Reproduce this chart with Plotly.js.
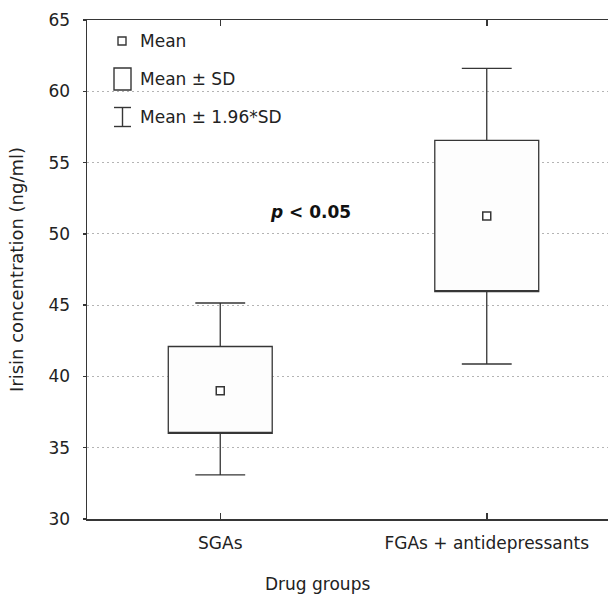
<!DOCTYPE html>
<html>
<head>
<meta charset="utf-8">
<script src="https://cdn.plot.ly/plotly-3.0.1.min.js"></script>
<style>
html,body{margin:0;padding:0;overflow:hidden;background:#fff;}
#chart{width:630px;height:597px;}
</style>
</head>
<body>
<div id="chart"></div>
<script>
// ---- data ----
const groups = ["SGAs", "FGAs + antidepressants"];
const means = [39.0, 51.25];
const sdLow = [36.0, 45.95];      // mean - SD
const sdHigh = [42.1, 56.55];     // mean + SD
const ciLow = [33.1, 40.87];      // mean - 1.96*SD
const ciHigh = [45.15, 61.6];     // mean + 1.96*SD
const yTicks = [30, 35, 40, 45, 50, 55, 60, 65];
const pText = "<b><i>p</i> < 0.05</b>";
const legendLabels = ["Mean", "Mean ± SD", "Mean ± 1.96*SD"];

// ---- layout helpers ----
const W = 630, H = 597;
const M = {l: 87, r: 10, t: 20, b: 78};
const PW = W - M.l - M.r, PH = H - M.t - M.b;
const px = v => (v - M.l) / PW;
const py = v => (H - M.b - v) / PH;
const ink = "#363636";
const font = "'DejaVu Sans', sans-serif";
const fs = 17;

const boxTrace = {
  type: "box",
  x: groups,
  q1: sdLow,
  median: sdLow,
  q3: sdHigh,
  lowerfence: ciLow,
  upperfence: ciHigh,
  width: 0.39,
  whiskerwidth: 0.48,
  fillcolor: "#fdfdfd",
  line: {color: ink, width: 1.3},
  boxpoints: false,
  hoverinfo: "skip",
  showlegend: false
};

const meanTrace = {
  type: "scatter",
  mode: "markers",
  x: groups,
  y: means,
  marker: {symbol: "square", size: 8, color: "#ffffff", line: {color: ink, width: 1.5}},
  showlegend: false,
  hoverinfo: "skip"
};

// legend (drawn manually)
const shapes = [
  {type: "rect", xref: "paper", yref: "paper", x0: px(118), x1: px(126), y0: py(45), y1: py(37), line: {color: ink, width: 1.4}, fillcolor: "#fff"},
  {type: "rect", xref: "paper", yref: "paper", x0: px(114), x1: px(131), y0: py(90), y1: py(68), line: {color: ink, width: 1.4}, fillcolor: "#fff"},
  {type: "line", xref: "paper", yref: "paper", x0: px(114), x1: px(131), y0: py(107.5), y1: py(107.5), line: {color: ink, width: 1.4}},
  {type: "line", xref: "paper", yref: "paper", x0: px(114), x1: px(131), y0: py(126.5), y1: py(126.5), line: {color: ink, width: 1.4}},
  {type: "line", xref: "paper", yref: "paper", x0: px(122.5), x1: px(122.5), y0: py(107.5), y1: py(126.5), line: {color: ink, width: 1.4}}
];

const legY = [41, 79, 117];
const annotations = legendLabels.map((t, i) => ({
  xref: "paper", yref: "paper", x: px(138), y: py(legY[i]),
  xanchor: "left", yanchor: "middle", showarrow: false,
  text: t, font: {family: font, size: fs, color: "#222"}
}));
annotations.push({
  x: 0.338, y: 51.55, xref: "x", yref: "y", showarrow: false,
  text: pText, font: {family: font, size: fs, color: "#111"}
});
annotations.push({
  xref: "paper", yref: "paper", x: px(317), y: py(584),
  xanchor: "center", yanchor: "middle", showarrow: false,
  text: "Drug groups", font: {family: font, size: 17, color: "#222"}
});

const layout = {
  width: W, height: H,
  margin: M,
  paper_bgcolor: "#fff",
  plot_bgcolor: "#fff",
  font: {family: font, size: fs, color: "#222"},
  showlegend: false,
  xaxis: {
    type: "category",
    range: [-0.5, 1.5],
    showline: true, linecolor: ink, linewidth: 1.5,
    mirror: "ticks",
    ticks: "inside", ticklen: 6, tickcolor: ink, tickwidth: 1.5,
    ticklabelstandoff: 8,
    showgrid: false, zeroline: false,
    tickfont: {family: font, size: fs, color: "#222"},
    fixedrange: true
  },
  yaxis: {
    range: [30, 65],
    tickvals: yTicks,
    showline: true, linecolor: ink, linewidth: 1.5,
    ticks: "outside", ticklen: 3, tickcolor: ink, tickwidth: 1.5,
    ticklabelstandoff: 9,
    showgrid: true, gridcolor: "#b4b4b4", griddash: "1.5px,3.5px", gridwidth: 1,
    zeroline: false,
    tickfont: {family: font, size: fs, color: "#222"},
    title: {text: "Irisin concentration (ng/ml)", font: {family: font, size: 18, color: "#222"}, standoff: 20},
    fixedrange: true
  },
  shapes: shapes,
  annotations: annotations
};

Plotly.newPlot("chart", [boxTrace, meanTrace], layout, {displayModeBar: false, staticPlot: true});
</script>
</body>
</html>
